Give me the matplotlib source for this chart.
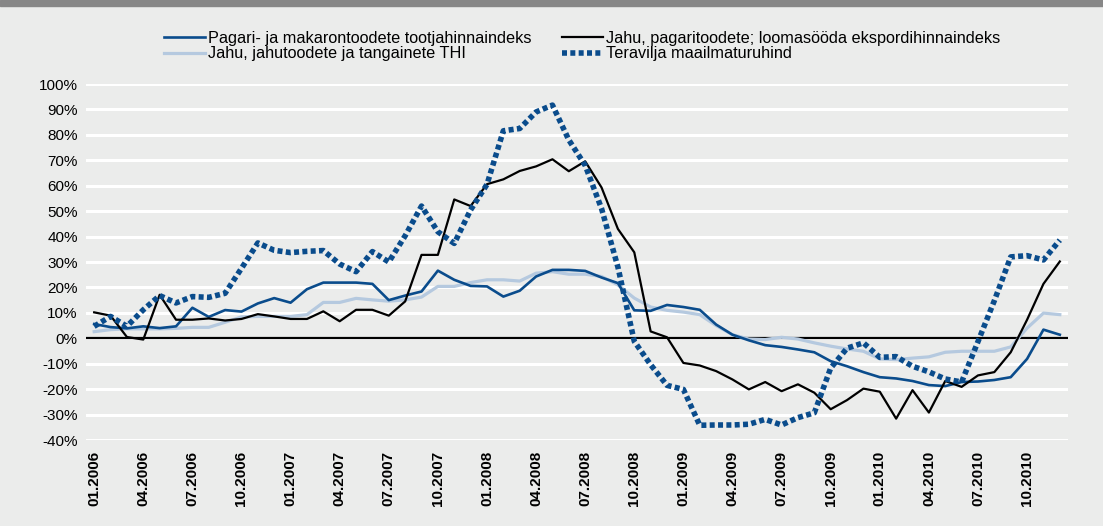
import matplotlib

matplotlib.use("Agg")
import matplotlib.pyplot as plt
from matplotlib.patches import Rectangle

# kuud 01.2006 ... 12.2010, muutus võrreldes eelmise aasta sama kuuga (%)
months = [f"{m:02d}.{y}" for y in range(2006, 2011) for m in range(1, 13)]

pagari = [5.6, 4.4, 3.9, 4.7, 4.0, 4.7, 12.0, 8.4, 11.1, 10.5, 13.7, 15.8,
          14.0, 19.3, 21.9, 21.9, 21.9, 21.4, 15.0, 16.8, 18.4, 26.6, 23.0, 20.6,
          20.4, 16.4, 18.7, 24.3, 26.9, 26.9, 26.5, 23.9, 21.7, 11.0, 10.8, 13.1,
          12.3, 11.2, 5.4, 1.4, -0.8, -2.7, -3.4, -4.4, -5.5, -9.0, -11.0, -13.3,
          -15.3, -15.8, -16.8, -18.4, -18.8, -17.2, -17.0, -16.4, -15.3, -8.1, 3.4, 1.4]

jahu_eksport = [10.2, 8.9, 0.5, -0.5, 17.1, 7.3, 7.3, 7.8, 7.0, 7.6, 9.5, 8.6,
                7.6, 7.6, 10.6, 6.7, 11.2, 11.2, 8.9, 14.5, 32.8, 32.8, 54.6, 52.0,
                60.6, 62.5, 65.8, 67.6, 70.4, 65.7, 69.6, 59.3, 43.0, 33.8, 2.7, 0.4,
                -9.7, -10.7, -12.9, -16.2, -20.1, -17.2, -20.8, -18.1, -21.4, -27.9, -24.3, -19.8,
                -21.0, -31.6, -20.4, -29.2, -16.8, -19.1, -14.6, -13.3, -5.5, 7.3, 21.4, 30.2]

jahu_thi = [2.6, 3.4, 3.7, 3.7, 3.7, 3.9, 4.3, 4.3, 6.3, 8.4, 8.6, 8.6,
            8.6, 9.3, 14.1, 14.1, 15.7, 15.1, 14.6, 15.1, 16.2, 20.4, 20.4, 21.9,
            23.0, 23.0, 22.5, 25.6, 26.2, 25.2, 25.2, 24.3, 21.0, 15.8, 12.3, 11.0,
            10.3, 9.3, 5.0, 1.4, -0.3, -0.5, 0.4, -0.3, -1.8, -3.1, -4.2, -5.1,
            -8.1, -8.4, -7.8, -7.3, -5.5, -5.1, -5.1, -5.1, -3.4, 4.0, 9.9, 9.3]

teravili = [4.7, 8.6, 4.7, 11.2, 16.8, 13.9, 16.4, 16.1, 17.7, 27.5, 37.5, 34.6,
            33.7, 34.2, 34.5, 29.2, 26.2, 34.1, 30.0, 40.3, 52.0, 41.9, 37.3, 50.5,
            60.5, 81.6, 82.5, 89.0, 91.7, 78.0, 68.0, 51.0, 28.0, -1.2, -10.4, -18.5,
            -20.1, -34.2, -34.1, -34.1, -33.8, -31.9, -34.1, -31.2, -29.3, -11.7, -3.9, -1.8,
            -7.5, -7.2, -11.0, -13.2, -16.0, -17.2, -1.3, 14.8, 32.0, 32.5, 30.8, 38.6]

labels = [
    "Pagari- ja makarontoodete tootjahinnaindeks",
    "Jahu, jahutoodete ja tangainete THI",
    "Jahu, pagaritoodete; loomasööda ekspordihinnaindeks",
    "Teravilja maailmaturuhind",
]

BG = "#ebeceb"
DARK = "#0a4c8c"
LIGHT = "#b5c9df"

W, H = 1103, 526
fig = plt.figure(figsize=(W / 100, H / 100), dpi=100, facecolor=BG)
fig.patches.append(Rectangle((0, 1 - 6 / H), 1, 6 / H, transform=fig.transFigure,
                             color="#878787", zorder=0))
ax = fig.add_axes([86 / W, 1 - 440 / H, 982 / W, 356 / H])
ax.set_facecolor(BG)

x = list(range(len(months)))
l_thi, = ax.plot(x, jahu_thi, color=LIGHT, lw=2.3, zorder=3)
l_pag, = ax.plot(x, pagari, color=DARK, lw=1.9, zorder=4)
l_eks, = ax.plot(x, jahu_eksport, color="black", lw=1.6, zorder=5)
l_ter, = ax.plot(x, teravili, color=DARK, lw=4.0, linestyle=(0, (0.9, 0.6)),
                 dash_capstyle="butt", zorder=6)

ax.axhline(0, color="black", lw=1.6, zorder=2)
ax.set_xlim(-0.5, len(months) - 0.5)
ax.set_ylim(-40, 100)

yt = list(range(-40, 101, 10))
ax.set_yticks(yt)
ax.set_yticklabels([f"{v}%" for v in yt], fontsize=11, family="Liberation Sans")
ax.set_xticks(x[::3])
ax.set_xticklabels(months[::3], rotation=90, fontsize=11, fontweight="bold",
                   family="Liberation Sans")
ax.tick_params(length=0)
ax.tick_params(axis="y", pad=6)
ax.tick_params(axis="x", pad=8)
ax.yaxis.grid(True, color="white", lw=2.2)
ax.set_axisbelow(True)
for s in ax.spines.values():
    s.set_visible(False)

leg = fig.legend([l_pag, l_thi, l_eks, l_ter], labels, ncol=2, frameon=False,
                 loc="upper left", bbox_to_anchor=(164 / W, 1 - 31 / H),
                 prop={"family": ["Liberation Sans Narrow", "Liberation Sans"], "size": 11.7},
                 handlelength=2.5, handletextpad=0.2, columnspacing=1.9,
                 labelspacing=0.02, borderpad=0, borderaxespad=0)
leg.legend_handles[3].set_linewidth(4.0)

fig.savefig("out.png", dpi=100, facecolor=BG)
